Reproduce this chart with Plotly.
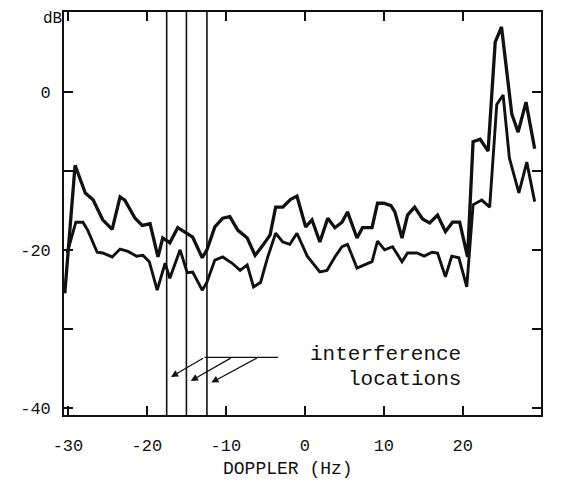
import plotly.graph_objects as go

# ---- data ----
doppler_upper = [-30.4, -29.1, -27.8, -26.8, -25.6, -24.4, -23.4, -22.8, -21.5, -20.6,
                 -19.6, -18.6, -18.0, -17.1, -16.1, -14.9, -14.2, -13.0, -12.4, -11.4,
                 -10.4, -9.5, -8.5, -7.3, -6.3, -5.3, -4.4, -3.7, -2.8, -1.8,
                 -1.0, 0.1, 0.9, 1.9, 2.9, 3.8, 4.7, 5.4, 6.6, 7.3,
                 8.5, 9.2, 10.0, 10.9, 11.4, 12.3, 13.0, 13.9, 14.9, 15.8,
                 16.8, 17.8, 18.7, 19.6, 20.6, 21.3, 22.2, 23.2, 24.1, 24.9,
                 26.2, 27.0, 28.0, 29.1]
db_upper = [-25.5, -9.3, -12.8, -13.7, -16.2, -17.4, -13.3, -13.7, -16.0, -16.9,
            -16.7, -20.9, -18.5, -19.1, -17.2, -17.9, -18.4, -21.0, -20.0, -17.1,
            -16.0, -15.8, -17.5, -18.5, -20.7, -19.4, -18.1, -14.6, -14.6, -13.6,
            -13.2, -17.1, -16.2, -19.0, -16.0, -17.2, -16.5, -15.2, -18.5, -17.2,
            -17.2, -14.1, -14.1, -14.4, -15.2, -18.5, -15.6, -14.6, -16.1, -16.6,
            -15.6, -17.7, -16.5, -16.5, -20.9, -6.3, -6.0, -7.5, 6.3, 8.2,
            -2.8, -5.1, -1.3, -7.2]

doppler_lower = [-30.1, -29.0, -28.1, -27.5, -26.3, -25.6, -24.4, -23.4, -22.4, -21.3,
                 -20.5, -19.7, -18.7, -17.7, -17.1, -15.8, -14.9, -14.2, -13.0, -12.4,
                 -11.4, -10.4, -9.2, -8.2, -7.3, -6.5, -5.6, -4.7, -3.7, -2.8,
                 -1.9, -1.0, 0.3, 1.0, 1.9, 2.8, 3.8, 4.7, 5.4, 6.6,
                 7.6, 8.5, 9.2, 10.1, 11.1, 12.3, 13.0, 14.2, 15.1, 16.1,
                 16.8, 17.8, 18.6, 19.5, 20.5, 21.3, 22.4, 23.4, 24.3, 25.1,
                 25.9, 27.1, 28.1, 29.1]
db_lower = [-20.4, -16.5, -16.5, -17.5, -20.3, -20.4, -20.9, -19.9, -20.2, -20.8,
            -20.7, -21.5, -25.1, -21.7, -23.6, -20.0, -22.9, -22.8, -25.1, -24.1,
            -21.3, -20.9, -21.7, -22.6, -21.9, -24.7, -24.1, -20.9, -17.9, -19.0,
            -19.3, -17.9, -20.8, -21.7, -22.8, -22.6, -20.9, -19.6, -19.3, -22.3,
            -21.9, -21.5, -18.9, -20.0, -19.6, -21.5, -20.4, -20.4, -20.8, -20.3,
            -20.4, -23.4, -20.8, -21.0, -24.7, -14.3, -13.7, -14.6, -1.6, -0.4,
            -8.4, -12.8, -8.9, -13.9]

interference_hz = [-17.5, -15.0, -12.4]

x_ticks = [-30, -20, -10, 0, 10, 20, 30]
x_ticklabels = ["-30", "-20", "-10", "0", "10", "20", "30"]
y_ticks = [0, -10, -20, -30, -40]
y_ticklabels = ["0", "", "-20", "", "-40"]

INK = "#111111"
FONT = "Liberation Mono"

fig = go.Figure()
fig.add_trace(go.Scatter(x=doppler_upper, y=db_upper, mode="lines",
                         line=dict(color=INK, width=3.3), showlegend=False))
fig.add_trace(go.Scatter(x=doppler_lower, y=db_lower, mode="lines",
                         line=dict(color=INK, width=2.9), showlegend=False))

for xv in interference_hz:
    fig.add_shape(type="line", xref="x", yref="paper", x0=xv, x1=xv, y0=0, y1=1,
                  line=dict(color=INK, width=1.6))

# leader line + arrows for the "interference locations" label
lead_y = -33.6
lead_starts = [-12.7, -9.2, -5.9]
arrow_tip_y = [-36.4, -36.9, -37.1]
fig.add_shape(type="line", xref="x", yref="y", x0=-12.7, x1=-3.4, y0=lead_y, y1=lead_y,
              line=dict(color=INK, width=1.3))
for xs, xt, yt in zip(lead_starts, interference_hz, arrow_tip_y):
    fig.add_annotation(x=xt, y=yt, ax=xs, ay=lead_y, xref="x", yref="y",
                       axref="x", ayref="y", showarrow=True, arrowhead=2,
                       arrowsize=1.1, arrowwidth=1.3, arrowcolor=INK, standoff=5, text="")

fig.add_annotation(x=20.0, y=-33.3, xref="x", yref="y", text="interference",
                   showarrow=False, xanchor="right", yanchor="middle",
                   font=dict(family=FONT, size=21, color=INK))
fig.add_annotation(x=20.0, y=-36.4, xref="x", yref="y", text="locations",
                   showarrow=False, xanchor="right", yanchor="middle",
                   font=dict(family=FONT, size=21, color=INK))

fig.add_annotation(x=-0.025, y=1.0099, xref="paper", yref="paper", text="dB",
                   showarrow=False, xanchor="center", yanchor="top",
                   font=dict(family=FONT, size=16, color=INK))
fig.add_annotation(x=-2.2, y=-0.164, xref="x", yref="paper", text="DOPPLER (Hz)",
                   showarrow=False, xanchor="center", yanchor="bottom",
                   font=dict(family=FONT, size=18, color=INK))

axis_common = dict(showgrid=False, zeroline=False, showline=True, linecolor=INK,
                   linewidth=1.6, mirror="ticks", ticks="inside", ticklen=9,
                   tickwidth=1.6, tickcolor=INK, automargin=False,
                   tickfont=dict(family=FONT, size=17, color=INK))

fig.update_xaxes(range=[-30.5, 29.9], tickmode="array", tickvals=x_ticks,
                 ticktext=x_ticklabels, ticklabelstandoff=14, **axis_common)
fig.update_yaxes(range=[-40.9, 10.1], tickmode="array", tickvals=y_ticks,
                 ticktext=y_ticklabels, ticklabelstandoff=8, **axis_common)

# page body has an 8px default margin, so the figure is sized/margined to compensate
fig.update_layout(width=555, height=475, margin=dict(l=56, r=22, t=4, b=68),
                  plot_bgcolor="white", paper_bgcolor="white", showlegend=False)

fig.write_html("out.html")
